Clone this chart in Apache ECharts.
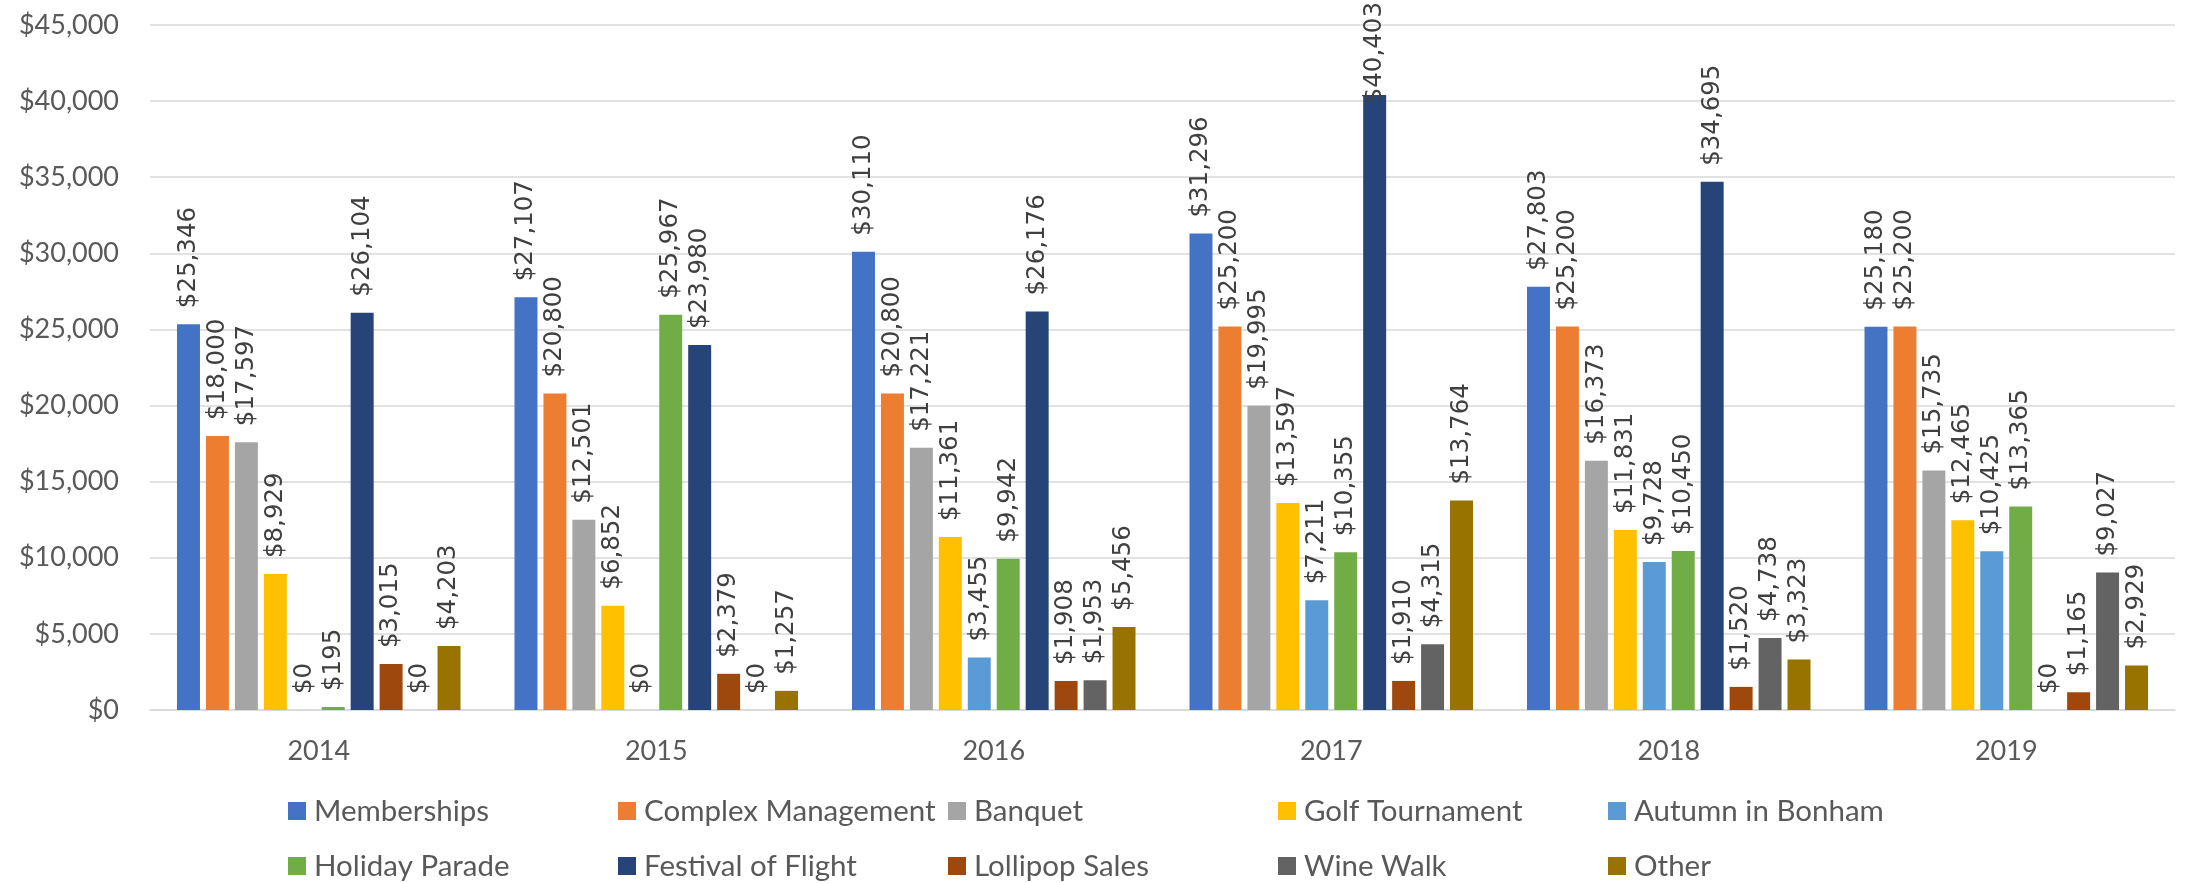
<!DOCTYPE html>
<html>
<head>
<meta charset="utf-8">
<script src="https://cdn.jsdelivr.net/npm/echarts@6/dist/echarts.min.js"></script>
<style>
html,body{margin:0;padding:0;background:#fff;}
#chart{width:2190px;height:883px;}
</style>
</head>
<body>
<div id="chart"></div>
<script>
var years = ['2014','2015','2016','2017','2018','2019'];
var seriesNames = ['Memberships','Complex Management','Banquet','Golf Tournament','Autumn in Bonham','Holiday Parade','Festival of Flight','Lollipop Sales','Wine Walk','Other'];
var memberships       = [25346, 27107, 30110, 31296, 27803, 25180];
var complexManagement = [18000, 20800, 20800, 25200, 25200, 25200];
var banquet           = [17597, 12501, 17221, 19995, 16373, 15735];
var golfTournament    = [8929, 6852, 11361, 13597, 11831, 12465];
var autumnInBonham    = [0, 0, 3455, 7211, 9728, 10425];
var holidayParade     = [195, 25967, 9942, 10355, 10450, 13365];
var festivalOfFlight  = [26104, 23980, 26176, 40403, 34695, 0];
var lollipopSales     = [3015, 2379, 1908, 1910, 1520, 1165];
var wineWalk          = [0, 0, 1953, 4315, 4738, 9027];
var other             = [4203, 1257, 5456, 13764, 3323, 2929];
var yTicks = [0, 5000, 10000, 15000, 20000, 25000, 30000, 35000, 40000, 45000];

var seriesData = [memberships, complexManagement, banquet, golfTournament, autumnInBonham, holidayParade, festivalOfFlight, lollipopSales, wineWalk, other];
var colors = ['#4472C4','#ED7D31','#A5A5A5','#FFC000','#5B9BD5','#70AD47','#264478','#9E480E','#636363','#997300'];

function money(v){ return '$' + Number(v).toLocaleString('en-US'); }

var LABEL_DIST = 16;
var legendCols = [288, 618, 948, 1278, 1608];
var legendRows = [796, 851];
var legends = seriesNames.map(function(name, i){
  return {
    data: [name],
    left: legendCols[i % 5],
    top: legendRows[Math.floor(i / 5)],
    padding: 0,
    itemWidth: 18,
    itemHeight: 18,
    itemGap: 0,
    icon: 'rect',
    selectedMode: false,
    textStyle: { fontFamily: 'Lato', fontSize: 29.5, color: '#595959', lineHeight: 30, padding: [0,0,0,3] }
  };
});

var series = seriesNames.map(function(name, i){
  return {
    name: name,
    type: 'bar',
    data: seriesData[i],
    barGap: '26%',
    barCategoryGap: '16%',
    itemStyle: { color: colors[i] },
    label: {
      show: true,
      position: 'top',
      rotate: 90,
      align: 'left',
      verticalAlign: 'middle',
      distance: LABEL_DIST,
      fontFamily: 'DejaVu Sans',
      fontSize: 24.5,
      color: '#404040',
      formatter: function(p){ return money(p.value); }
    },
    labelLayout: function(p){
      var top = p.labelRect.y;
      if (top < 2) {
        return { x: p.rect.x + p.rect.width / 2, y: p.rect.y - LABEL_DIST + (2 - top) };
      }
      return {};
    }
  };
});

var chart = echarts.init(document.getElementById('chart'), null, {renderer: 'canvas'});
chart.setOption({
  animation: false,
  backgroundColor: '#ffffff',
  color: colors,
  legend: legends,
  grid: { left: 150, right: 15, top: 25, bottom: 173 },
  xAxis: {
    type: 'category',
    data: years,
    axisTick: { show: false },
    axisLine: { lineStyle: { color: '#D9D9D9', width: 1.5 } },
    axisLabel: { fontFamily: 'Lato', fontSize: 27, color: '#595959', margin: 28 }
  },
  yAxis: {
    type: 'value',
    min: yTicks[0],
    max: yTicks[yTicks.length - 1],
    interval: yTicks[1] - yTicks[0],
    axisLine: { show: false },
    axisTick: { show: false },
    splitLine: { lineStyle: { color: '#D9D9D9', width: 1.5 } },
    axisLabel: { fontFamily: 'Lato', fontSize: 27, color: '#595959', margin: 31, formatter: money }
  },
  series: series
});
</script>
</body>
</html>
